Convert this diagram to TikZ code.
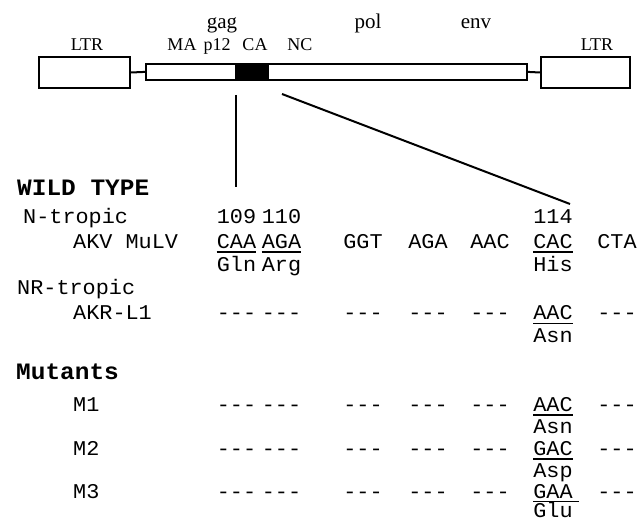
\documentclass[tikz,border=0pt]{standalone}
\usepackage{fontspec}
\setmainfont{Liberation Serif}
\newfontfamily\monofam{Liberation Mono}[FakeStretch=1.04]
\newcommand\tri{\mbox{-}\mbox{-}\mbox{-}}
\begin{document}
\begin{tikzpicture}[x=1pt,y=-1pt,
  lab/.style={font=\fontsize{18}{20}\selectfont, inner sep=0pt, anchor=base},
  gene/.style={font=\fontsize{21}{23}\selectfont, inner sep=0pt, anchor=base},
  mono/.style={font=\monofam\fontsize{21}{23}\selectfont, inner sep=0pt, anchor=base},
  rowlab/.style={mono, anchor=base west},
  head/.style={font=\monofam\bfseries\fontsize{23.5}{25}\selectfont, inner sep=0pt, anchor=base west},
  box/.style={draw, line width=2pt, inner sep=0pt, anchor=north west},
  link/.style={line width=2pt},
  ul/.style={line width=1.2pt}]
\useasboundingbox (0,0) rectangle (641,521);

% genome map
\node[box, minimum width=91pt, minimum height=31pt] (ltrL) at (38,56) {};
\node[box, minimum width=381pt, minimum height=16pt, line width=1.8pt] (bar) at (145,63) {};
\node[box, minimum width=89pt, minimum height=31pt] (ltrR) at (540,56) {};
\node[fill=black, minimum width=34pt, minimum height=17pt, inner sep=0pt, anchor=north west] (ca) at (235,63) {};
\draw[link] (ltrL.east) -- (bar.west);
\draw[link] (bar.east) -- (ltrR.west);

\node[lab] (tL) at (87,50.5) {LTR};
\node[lab] (tR) at (597,50.5) {LTR};
\node[lab] (tMA) at (182,50.5) {MA};
\node[lab] (tp12) at (217,50.5) {p12};
\node[lab] (tCA) at (255,50.5) {CA};
\node[lab] (tNC) at (300,50.5) {NC};
\node[gene] (tgag) at (222,29) {gag};
\node[gene] (tpol) at (368,29) {pol};
\node[gene] (tenv) at (476,29) {env};

% expansion lines
\coordinate (v1) at (236,95);
\coordinate (v2) at (236,187);
\coordinate (d1) at (282,94);
\coordinate (d2) at (570,204);
\draw[link] (v1) -- (v2);
\draw[link] (d1) -- (d2);

% headers and row labels
\node[head] (hw) at (17,196) {WILD TYPE};
\node[rowlab] (rN) at (23,223.5) {N-tropic};
\node[rowlab] (rAKV) at (73,248.5) {AKV MuLV};
\node[rowlab] (rNR) at (17,294.5) {NR-tropic};
\node[rowlab] (rAKR) at (73,320) {AKR-L1};
\node[head] (hm) at (16,380) {Mutants};
\node[rowlab] (rM1) at (73,411.5) {M1};
\node[rowlab] (rM2) at (73,455.5) {M2};
\node[rowlab] (rM3) at (73,498.5) {M3};

% numbers
\node[mono] (n109) at (236.5,223.5) {109};
\node[mono] (n110) at (281.5,223.5) {110};
\node[mono] (n114) at (553,223.5) {114};

% wild type sequence
\node[mono] (w1) at (236.5,248.5) {CAA};
\node[mono] (w2) at (281.5,248.5) {AGA};
\node[mono] (w3) at (363,248.5) {GGT};
\node[mono] (w4) at (428,248.5) {AGA};
\node[mono] (w5) at (490,248.5) {AAC};
\node[mono] (w6) at (553,248.5) {CAC};
\node[mono] (w7) at (617,248.5) {CTA};
\node[mono] (a1) at (236.5,271.5) {Gln};
\node[mono] (a2) at (281.5,271.5) {Arg};
\node[mono] (a6) at (553,271.5) {His};
\foreach \n in {w1,w2,w6}
  \draw[ul] ([yshift=-3.5pt]\n.base west) -- ([yshift=-3.5pt]\n.base east);

% AKR-L1
\foreach \x [count=\i] in {236.5,281.5,363,428,490}
  \node[mono] (k\i) at (\x,320) {\tri};
\node[mono] (k6) at (553,320) {AAC};
\node[mono] (k7) at (617,320) {\tri};
\node[mono] (ka) at (553,343) {Asn};
\draw[ul] ([yshift=-3.5pt]k6.base west) -- ([yshift=-3.5pt]k6.base east);

% M1
\foreach \x [count=\i] in {236.5,281.5,363,428,490}
  \node[mono] (pa\i) at (\x,411.5) {\tri};
\node[mono] (pa6) at (553,411.5) {AAC};
\node[mono] (pa7) at (617,411.5) {\tri};
\node[mono] (paa) at (553,433.5) {Asn};
\draw[ul] ([yshift=-3.5pt]pa6.base west) -- ([yshift=-3.5pt]pa6.base east);

% M2
\foreach \x [count=\i] in {236.5,281.5,363,428,490}
  \node[mono] (pb\i) at (\x,455.5) {\tri};
\node[mono] (pb6) at (553,455.5) {GAC};
\node[mono] (pb7) at (617,455.5) {\tri};
\node[mono] (pba) at (553,477.5) {Asp};
\draw[ul] ([yshift=-3.5pt]pb6.base west) -- ([yshift=-3.5pt]pb6.base east);

% M3
\foreach \x [count=\i] in {236.5,281.5,363,428,490}
  \node[mono] (pc\i) at (\x,498.5) {\tri};
\node[mono] (pc6) at (553,498.5) {GAA};
\node[mono] (pc7) at (617,498.5) {\tri};
\node[mono] (pca) at (553,518) {Glu};
\draw[ul] ([yshift=-3pt]pc6.base west) -- ([shift={(6pt,-3pt)}]pc6.base east);
\end{tikzpicture}
\end{document}
